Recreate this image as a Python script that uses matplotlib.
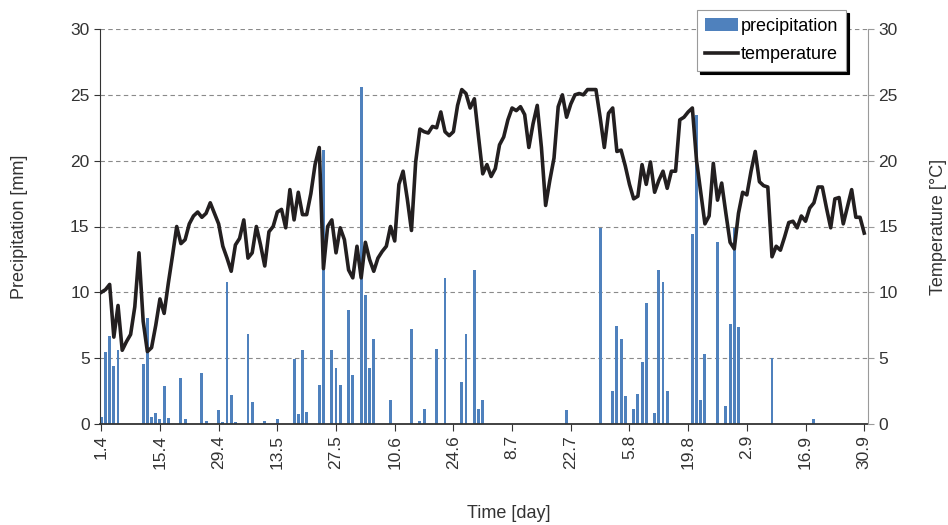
import matplotlib
matplotlib.use('Agg')
import matplotlib.pyplot as plt
import numpy as np

plt.rcParams['font.family'] = ['Liberation Sans', 'DejaVu Sans']

# daily series, day 0 = 1.4 ... day 182 = 30.9
temperature = [
    10.0, 10.2, 10.6, 6.6, 9.0, 5.6, 6.25, 6.8, 8.9, 13.0,
    7.8, 5.5, 5.8, 7.5, 9.5, 8.4, 10.7, 12.8, 15.0, 13.7,
    14.0, 15.2, 15.8, 16.1, 15.7, 16.0, 16.8, 16.0, 15.2, 13.5,
    12.6, 11.6, 13.6, 14.1, 15.5, 12.6, 13.0, 15.0, 13.6, 12.0,
    14.6, 15.0, 16.1, 16.3, 14.9, 17.8, 15.5, 17.6, 15.9, 15.9,
    17.5, 19.7, 21.0, 11.8, 15.0, 15.5, 13.0, 14.9, 14.0, 11.7,
    11.1, 13.5, 11.1, 13.8, 12.5, 11.6, 12.6, 13.1, 13.5, 15.0,
    13.9, 18.2, 19.2, 17.1, 14.7, 19.9, 22.4, 22.2, 22.1, 22.6,
    22.5, 23.7, 22.2, 21.9, 22.2, 24.2, 25.4, 25.1, 24.0, 24.7,
    21.8, 19.0, 19.7, 18.8, 19.4, 21.2, 21.8, 23.1, 24.0, 23.8,
    24.1, 23.5, 21.0, 22.8, 24.2, 21.0, 16.6, 18.5, 20.2, 24.1,
    25.0, 23.3, 24.3, 25.0, 25.1, 25.0, 25.4, 25.4, 25.4, 23.3,
    21.0, 23.6, 24.0, 20.7, 20.8, 19.6, 18.2, 17.1, 17.3, 19.7,
    18.2, 19.9, 17.6, 18.5, 19.2, 17.9, 19.2, 19.2, 23.1, 23.3,
    23.7, 24.0, 20.0, 17.6, 15.2, 15.8, 19.8, 17.0, 18.3, 16.0,
    13.8, 13.3, 16.0, 17.6, 17.4, 19.2, 20.7, 18.4, 18.1, 18.0,
    12.7, 13.5, 13.2, 14.2, 15.3, 15.4, 14.9, 15.8, 15.4, 16.4,
    16.8, 18.0, 18.0, 16.4, 14.9, 17.1, 17.2, 15.2, 16.5, 17.8,
    15.7, 15.7, 14.5,
]

rain_day = [0, 1, 2, 3, 4, 10, 11, 12, 13, 14, 15, 16, 19, 20, 24, 25, 28, 29, 30, 31,
            32, 35, 36, 39, 42, 46, 47, 48, 49, 52, 53, 55, 56, 57, 59, 60, 62, 63, 64, 65,
            69, 74, 76, 77, 80, 82, 86, 87, 89, 90, 91, 111, 119, 122, 123, 124, 125, 127, 128, 129,
            130, 132, 133, 134, 135, 141, 142, 143, 144, 147, 149, 150, 151, 152, 160, 170]
rain_mm = [0.5, 5.45, 6.7, 4.4, 5.6, 4.55, 8.05, 0.5, 0.8, 0.4, 2.9, 0.45, 3.5, 0.4, 3.9, 0.2, 1.05, 0.15, 10.75, 2.2,
           0.15, 6.8, 1.67, 0.2, 0.35, 4.93, 0.76, 5.6, 0.9, 2.95, 20.8, 5.6, 4.27, 2.95, 8.65, 3.7, 25.6, 9.8, 4.27, 6.45,
           1.82, 7.2, 0.2, 1.14, 5.7, 11.1, 3.2, 6.83, 11.7, 1.14, 1.82, 1.1, 14.86, 2.5, 7.44, 6.45, 2.13, 1.14, 2.28, 4.7,
           9.16, 0.84, 11.7, 10.78, 2.48, 14.43, 23.5, 1.82, 5.3, 13.8, 1.37, 7.57, 14.86, 7.37, 5.0, 0.35]

tick_labels = ['1.4', '15.4', '29.4', '13.5', '27.5', '10.6', '24.6',
               '8.7', '22.7', '5.8', '19.8', '2.9', '16.9', '30.9']

days = np.arange(len(temperature))
dark = '#333333'

fig = plt.figure(figsize=(9.48, 5.25), dpi=100)
ax = fig.add_axes([100 / 948, 1 - 424 / 525, 768 / 948, 395 / 525])
ax2 = ax.twinx()

ax.bar(rain_day, rain_mm, width=0.7, color='#4F81BD', zorder=2, label='precipitation')
ax2.plot(days, temperature, color='#231F20', lw=2.6, label='temperature')

for a in (ax, ax2):
    a.set_ylim(0, 30)
    a.set_yticks(range(0, 31, 5))
    a.set_xlim(-0.3, 182.9)
    a.spines['top'].set_visible(False)
ax.yaxis.grid(True, ls=(0, (4, 3)), color='#8a8a8a', lw=0.8)
ax.set_axisbelow(True)

ax.spines['left'].set_color(dark)
ax.spines['bottom'].set_color(dark)
ax.spines['bottom'].set_linewidth(1.3)
ax.spines['right'].set_visible(False)
ax2.spines['left'].set_visible(False)
ax2.spines['bottom'].set_visible(False)
ax2.spines['right'].set_color('#9a9a9a')

ax.set_xticks(np.arange(0, 183, 14))
ax.set_xticklabels(tick_labels, rotation=90)
ax.tick_params(axis='x', length=5, color=dark, labelsize=12.5, labelcolor=dark, pad=3)
ax.tick_params(axis='y', length=4, color=dark, labelsize=12.5, labelcolor=dark)
ax2.tick_params(axis='y', length=4, color='#9a9a9a', labelsize=12.5, labelcolor=dark)

ax.set_ylabel('Precipitation [mm]', fontsize=13, color=dark, labelpad=30)
ax2.set_ylabel('Temperature [°C]', fontsize=13, color=dark, labelpad=23)
ax.set_xlabel('Time [day]', fontsize=13, color=dark)
ax.xaxis.set_label_coords((509 - 100) / 768, (424 - 505) / 395)

h1, l1 = ax.get_legend_handles_labels()
h2, l2 = ax2.get_legend_handles_labels()
leg = fig.legend(h1 + h2, l1 + l2, loc='upper left', bbox_to_anchor=(697 / 948, 1 - 10 / 525),
                 borderaxespad=0, fontsize=13, fancybox=False, edgecolor='#9a9a9a', framealpha=1,
                 shadow={'color': 'black', 'alpha': 1}, handlelength=1.8, handletextpad=0.15,
                 borderpad=0.45, labelspacing=0.6)
leg.get_frame().set_linewidth(0.8)

fig.savefig('out.png', dpi=100)
